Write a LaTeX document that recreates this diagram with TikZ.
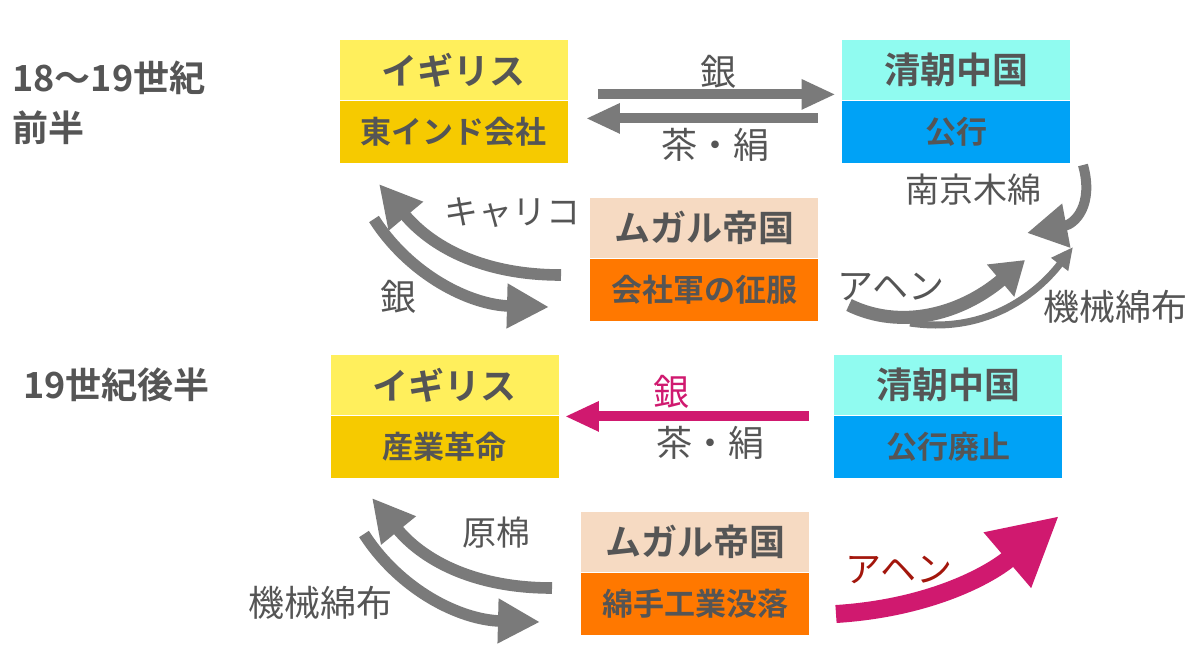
\documentclass[tikz,border=0pt]{standalone}
\usepackage{fontspec}
\setmainfont{Noto Sans CJK JP}[BoldFont={Noto Sans CJK JP Bold}]
\usepackage{xcolor}
\usetikzlibrary{positioning,arrows.meta}

\definecolor{ink}{HTML}{555555}
\definecolor{arrowgray}{HTML}{7A7A7A}
\definecolor{ylight}{HTML}{FFEF5C}
\definecolor{ydark}{HTML}{F6CA00}
\definecolor{clight}{HTML}{90FBF0}
\definecolor{cdark}{HTML}{00A2F6}
\definecolor{plight}{HTML}{F6DAC2}
\definecolor{odark}{HTML}{FF7800}
\definecolor{mag}{HTML}{D0196F}
\definecolor{opred}{HTML}{A3160C}

\begin{document}
\begin{tikzpicture}[x=0.5pt,y=-0.5pt,>={Triangle[length=17pt,width=14pt]},node distance=0pt]
    \tikzstyle{namebox}=[minimum width=114pt,minimum height=30pt,inner sep=0pt,text=ink,font=\bfseries\fontsize{18}{18}\selectfont]
    \tikzstyle{subbox}=[minimum width=114pt,minimum height=31pt,inner sep=0pt,text=ink,font=\bfseries\fontsize{15.5}{15.5}\selectfont]
    \tikzstyle{goods}=[inner sep=0pt,text=ink,font=\fontsize{18}{18}\selectfont]
    \tikzstyle{era}=[inner sep=0pt,anchor=west,align=left,text=ink,font=\bfseries\fontsize{18}{25}\selectfont]
    \tikzstyle{flow}=[draw=arrowgray,line width=5pt,->]
    \tikzstyle{bigflow}=[draw=arrowgray,line width=5.8pt,-{Triangle[length=21pt,width=21pt]}]
    \tikzstyle{thinflow}=[draw=arrowgray,line width=3.5pt,-{Triangle[length=11pt,width=10pt]}]

    \fill[white] (0,0) rectangle (1200,650);
    \useasboundingbox (0,0) rectangle (1200,650);

    % 18-19th century
    \node[era] (era1) at (12,103) {18〜19世紀\\前半};

    \node[namebox,fill=ylight] (gb1) at (453.5,70) {イギリス};
    \node[subbox,fill=ydark,below=of gb1] (gb1s) {東インド会社};
    \node[namebox,fill=clight] (cn1) at (956,70) {清朝中国};
    \node[subbox,fill=cdark,below=of cn1] (cn1s) {公行};
    \node[namebox,fill=plight] (mg1) at (704,228) {ムガル帝国};
    \node[subbox,fill=odark,below=of mg1] (mg1s) {会社軍の征服};

    \draw[flow] ([xshift=15pt,yshift=3pt]gb1.south east) -- ([xshift=-3pt,yshift=3pt]cn1.south west);
    \draw[flow] ([xshift=-12pt,yshift=-9pt]cn1.south west) -- ([xshift=9pt,yshift=-9pt]gb1.south east);
    \node[goods] (silver1) at (718,72) {銀};
    \node[goods] (tea1) at (715,145) {茶・絹};

    \coordinate (k1) at (561,275);
    \coordinate (k2) at (379,184);
    \draw[bigflow] (k1) .. controls (480,275) and (430,245) .. (k2);
    \node[goods,font=\fontsize{17}{17}\selectfont] (calico) at (512,213) {キャリコ};

    \coordinate (s1) at (374,219);
    \coordinate (s2) at (549,307);
    \draw[bigflow] (s1) .. controls (410,275) and (470,305) .. (s2);
    \node[goods] (silver2) at (398,297) {銀};

    \coordinate (n1) at (1083,165);
    \coordinate (n2) at (1027,233);
    \draw[flow,-{Triangle[length=20pt,width=21pt]}] (n1) .. controls (1094,205) and (1075,224) .. (n2);
    \node[goods,font=\fontsize{17}{17}\selectfont] (nanking) at (973,190) {南京木綿};

    \coordinate (o1) at (849,305);
    \coordinate (o2) at (1025,260);
    \draw[bigflow,line width=6.5pt,-{Triangle[length=16pt,width=20pt]}] (o1) .. controls (900,330) and (960,315) .. (o2);
    \node[goods] (opium1) at (891,287) {アヘン};

    \coordinate (m1) at (910,323);
    \coordinate (m2) at (1073,247);
    \draw[thinflow] (m1) .. controls (990,335) and (1040,290) .. (m2);
    \node[goods] (cloth1) at (1115,307) {機械綿布};

    % late 19th century
    \node[era] (era2) at (23,385) {19世紀後半};

    \node[namebox,fill=ylight] (gb2) at (444.5,385) {イギリス};
    \node[subbox,fill=ydark,below=of gb2] (gb2s) {産業革命};
    \node[namebox,fill=clight] (cn2) at (948,385) {清朝中国};
    \node[subbox,fill=cdark,below=of cn2] (cn2s) {公行廃止};
    \node[namebox,fill=plight] (mg2) at (695,542) {ムガル帝国};
    \node[subbox,fill=odark,below=of mg2] (mg2s) {綿手工業没落};

    \draw[flow,draw=mag] ([xshift=-12.5pt,yshift=-0.5pt]cn2.south west) -- ([xshift=3pt,yshift=-0.5pt]gb2.south east);
    \node[goods,text=mag] (silver3) at (671,392) {銀};
    \node[goods] (tea2) at (710,443) {茶・絹};

    \coordinate (r1) at (552,588);
    \coordinate (r2) at (372,498);
    \draw[bigflow] (r1) .. controls (471,588) and (421,558) .. (r2);
    \node[goods,font=\fontsize{17}{17}\selectfont] (rawcotton) at (496,533) {原棉};

    \coordinate (c1) at (364,534);
    \coordinate (c2) at (540,622);
    \draw[bigflow] (c1) .. controls (400,590) and (460,620) .. (c2);
    \node[goods] (cloth2) at (320,603) {機械綿布};

    \coordinate (p1) at (836,614);
    \coordinate (p2) at (1059,516);
    \draw[draw=mag,line width=9pt,-{Triangle[length=34pt,width=34pt]}] (p1) .. controls (930,608) and (990,575) .. (p2);
    \node[goods,text=opred] (opium2) at (899,570) {アヘン};
\end{tikzpicture}
\end{document}
